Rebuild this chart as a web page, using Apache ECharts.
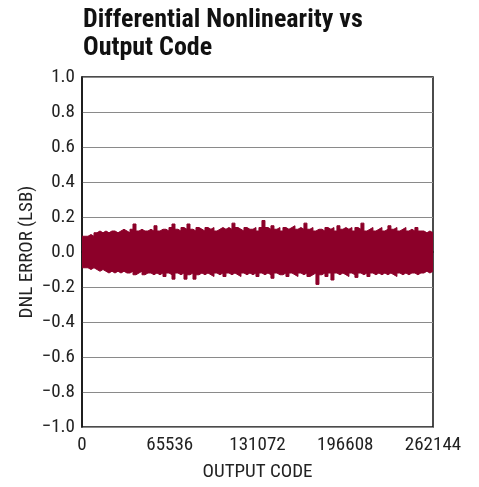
<!DOCTYPE html>
<html><head><meta charset="utf-8">
<script src="https://cdn.jsdelivr.net/npm/echarts@6/dist/echarts.min.js"></script>
<style>html,body{margin:0;padding:0;background:#fff}#c{width:479px;height:487px}</style>
</head><body><div id="c"></div>
<script>
const titleLines = ["Differential Nonlinearity vs", "Output Code"];
const xTicks = [0, 65536, 131072, 196608, 262144];
const yTicks = [-1.0, -0.8, -0.6, -0.4, -0.2, 0.0, 0.2, 0.4, 0.6, 0.8, 1.0];
const xName = "OUTPUT CODE";
const yName = "DNL ERROR (LSB)";
const binWidth = 2240; // output codes per envelope bin
const dnlUpper = [
 0.09,0.09,0.10,0.09,0.11,0.12, 0.11,0.12,0.11,0.12,0.12,0.11,
 0.12,0.13,0.12,0.11,0.13,0.16, 0.12,0.13,0.12,0.12,0.13,0.12,
 0.15,0.12,0.13,0.13,0.12,0.14, 0.16,0.13,0.12,0.14,0.13,0.16,
 0.13,0.12,0.14,0.13,0.12,0.14, 0.13,0.14,0.12,0.13,0.14,0.13,
 0.14,0.13,0.165,0.14,0.13,0.12, 0.14,0.13,0.13,0.14,0.12,0.14,
 0.18,0.14,0.13,0.15,0.13,0.14, 0.12,0.14,0.13,0.14,0.15,0.13,
 0.14,0.13,0.165,0.13,0.14,0.12, 0.13,0.13,0.12,0.14,0.13,0.14,
 0.12,0.15,0.13,0.14,0.13,0.14, 0.12,0.14,0.13,0.165,0.12,0.13,
 0.14,0.12,0.13,0.14,0.12,0.13, 0.15,0.13,0.14,0.12,0.13,0.14,
 0.12,0.13,0.12,0.14,0.12,0.12, 0.11,0.12,0.11
];
const dnlLower = [
 -0.09,-0.09,-0.10,-0.09,-0.10,-0.11, -0.10,-0.11,-0.12,-0.11,-0.12,-0.11,
 -0.12,-0.11,-0.12,-0.12,-0.11,-0.13, -0.12,-0.11,-0.13,-0.12,-0.12,-0.13,
 -0.12,-0.13,-0.12,-0.14,-0.12,-0.13, -0.155,-0.12,-0.13,-0.12,-0.155,-0.13,
 -0.12,-0.155,-0.13,-0.12,-0.13,-0.12, -0.13,-0.14,-0.12,-0.13,-0.12,-0.14,
 -0.12,-0.13,-0.12,-0.13,-0.14,-0.12, -0.13,-0.12,-0.13,-0.12,-0.14,-0.12,
 -0.13,-0.12,-0.13,-0.15,-0.12,-0.13, -0.13,-0.12,-0.14,-0.12,-0.13,-0.14,
 -0.12,-0.13,-0.12,-0.14,-0.13,-0.12, -0.185,-0.13,-0.12,-0.14,-0.12,-0.16,
 -0.12,-0.13,-0.12,-0.13,-0.14,-0.12, -0.13,-0.145,-0.12,-0.13,-0.12,-0.14,
 -0.12,-0.13,-0.12,-0.13,-0.12,-0.13, -0.12,-0.13,-0.14,-0.12,-0.13,-0.12,
 -0.13,-0.12,-0.12,-0.13,-0.12,-0.12, -0.11,-0.12,-0.11
];

const FONT = '"Liberation Sans Narrow","Roboto Condensed","Liberation Sans",sans-serif';
const COLOR = '#8c0029';
const xMax = xTicks[xTicks.length-1];
function pairs(arr){
  const out = arr.map((v,i)=>[Math.min(i*binWidth, xMax), v]);
  out.push([xMax, arr[arr.length-1]]);
  return out;
}
const chart = echarts.init(document.getElementById('c'), null, {renderer:'canvas'});
chart.setOption({
  animation:false,
  backgroundColor:'#fff',
  title:{
    text: titleLines.join('\n'), left:78, top:1,
    textStyle:{fontFamily:FONT, fontWeight:'bold', fontSize:26, lineHeight:28, color:'#111'}
  },
  grid:{left:82, right:46, top:77, bottom:59, show:true, borderColor:'#111', borderWidth:1.5, backgroundColor:'transparent'},
  xAxis:{
    type:'value', min:xTicks[0], max:xMax, interval:xTicks[1]-xTicks[0],
    name:xName, nameLocation:'middle', nameGap:36,
    nameTextStyle:{fontFamily:FONT, fontSize:19, color:'#222'},
    axisLine:{show:true, lineStyle:{color:'#111', width:1.5}},
    axisTick:{show:false}, splitLine:{show:false},
    axisLabel:{fontFamily:FONT, fontSize:19, color:'#222', margin:9, formatter:v=>String(v)}
  },
  yAxis:{
    type:'value', min:yTicks[0], max:yTicks[yTicks.length-1], interval:0.2,
    name:yName, nameLocation:'middle', nameGap:45, nameRotate:90, nameMoveOverlap:false,
    nameTextStyle:{fontFamily:FONT, fontSize:19, color:'#222'},
    axisLine:{show:true, lineStyle:{color:'#111', width:1.5}},
    axisTick:{show:false},
    splitLine:{show:true, lineStyle:{color:'#8a8a8a', width:1}},
    axisLabel:{fontFamily:FONT, fontSize:19, color:'#222', margin:7,
      formatter:v=>{ const s=(Math.round(v*10)/10).toFixed(1); return s.replace('-', '\u2212'); }}
  },
  series:[
    {type:'line', data:pairs(dnlUpper), step:'end', symbol:'none',
     lineStyle:{color:COLOR, width:1}, areaStyle:{color:COLOR, opacity:1}, z:3},
    {type:'line', data:pairs(dnlLower), step:'end', symbol:'none',
     lineStyle:{color:COLOR, width:1}, areaStyle:{color:COLOR, opacity:1}, z:3}
  ]
});
</script></body></html>
